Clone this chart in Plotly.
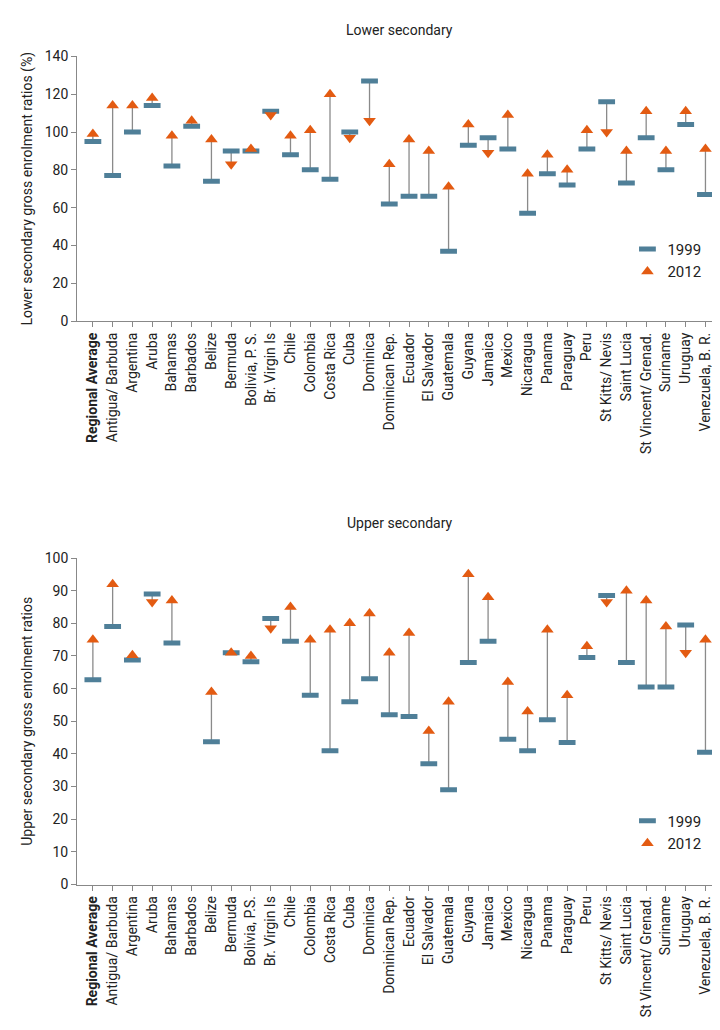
import plotly.graph_objects as go

lower_countries = ["<b>Regional Average</b>", "Antigua/ Barbuda", "Argentina", "Aruba", "Bahamas", "Barbados",
                   "Belize", "Bermuda", "Bolivia, P. S.", "Br. Virgin Is", "Chile", "Colombia", "Costa Rica",
                   "Cuba", "Dominica", "Dominican Rep.", "Ecuador", "El Salvador", "Guatemala", "Guyana",
                   "Jamaica", "Mexico", "Nicaragua", "Panama", "Paraguay", "Peru", "St Kitts/ Nevis",
                   "Saint Lucia", "St Vincent/ Grenad.", "Suriname", "Uruguay", "Venezuela, B. R."]
lower_1999 = [95, 77, 100, 114, 82, 103, 74, 90, 90, 111, 88, 80, 75, 100, 127, 62, 66, 66, 37, 93,
              97, 91, 57, 78, 72, 91, 116, 73, 97, 80, 104, 67]
lower_2012 = [99, 114, 114, 118, 98, 106, 96, 83, 91, 109, 98, 101, 120, 97, 106, 83, 96, 90, 71, 104,
              89, 109, 78, 88, 80, 101, 100, 90, 111, 90, 111, 91]

upper_countries = ["<b>Regional Average</b>", "Antigua/ Barbuda", "Argentina", "Aruba", "Bahamas", "Barbados",
                   "Belize", "Bermuda", "Bolivia, P.S.", "Br. Virgin Is", "Chile", "Colombia", "Costa Rica",
                   "Cuba", "Dominica", "Dominican Rep.", "Ecuador", "El Salvador", "Guatemala", "Guyana",
                   "Jamaica", "Mexico", "Nicaragua", "Panama", "Paraguay", "Peru", "St Kitts/ Nevis",
                   "Saint Lucia", "St Vincent/ Grenad.", "Suriname", "Uruguay", "Venezuela, B. R."]
upper_1999 = [62.7, 79, 68.8, 89, 74, None, 43.7, 71, 68.2, 81.5, 74.5, 58, 41, 56, 63, 52, 51.5, 37, 29, 68,
              74.5, 44.5, 41, 50.5, 43.5, 69.5, 88.5, 68, 60.5, 60.5, 79.5, 40.5]
upper_2012 = [75, 92, 70.2, 86.5, 87, None, 59, 71, 70, 78.5, 85, 75, 78, 80, 83, 71, 77, 47, 56, 95,
              88, 62, 53, 78, 58, 73, 86.5, 90, 87, 79, 71, 75]

BLUE = "#4f7f98"
ORANGE = "#e35b12"
GREY = "#8a8a8a"
FONT = "Roboto"

fig = go.Figure()


def add_panel(cats, v99, v12, xa, ya, legend):
    lx, ly = [], []
    for c, a, b in zip(cats, v99, v12):
        if a is None or b is None:
            continue
        lx += [c, c, None]
        ly += [a, b, None]
    fig.add_trace(go.Scatter(x=lx, y=ly, mode="lines", line=dict(color=GREY, width=1.3),
                             xaxis=xa, yaxis=ya, showlegend=False, hoverinfo="skip"))
    fig.add_trace(go.Scatter(x=cats, y=v99, mode="markers", name="1999",
                             marker=dict(symbol="line-ew", size=12, line=dict(color=BLUE, width=5)),
                             xaxis=xa, yaxis=ya, legend=legend))
    syms = ["triangle-up" if (a is None or b is None or b >= a) else "triangle-down" for a, b in zip(v99, v12)]
    fig.add_trace(go.Scatter(x=cats, y=v12, mode="markers", name="2012",
                             marker=dict(symbol=syms, size=11, color=ORANGE),
                             xaxis=xa, yaxis=ya, legend=legend))


add_panel(lower_countries, lower_1999, lower_2012, "x", "y", "legend")
add_panel(upper_countries, upper_1999, upper_2012, "x2", "y2", "legend2")

axis_common = dict(showgrid=False, showline=True, linecolor="#888", ticks="outside", tickcolor="#888",
                   ticklen=5, tickfont=dict(size=14, color="#222", family=FONT), zeroline=False,
                   automargin=False)

fig.update_layout(
    width=712, height=1030, margin=dict(l=0, r=0, t=0, b=0),
    paper_bgcolor="white", plot_bgcolor="white",
    font=dict(family=FONT, color="#222"),
    xaxis=dict(domain=[0.097, 0.999], anchor="y", tickangle=-90, categoryorder="array",
               categoryarray=lower_countries, range=[-0.8, 31.7], **axis_common),
    yaxis=dict(domain=[0.696, 0.953], anchor="x", range=[0, 140], dtick=20,
               title=dict(text="Lower secondary gross enrolment ratios (%)", font=dict(size=14), standoff=8),
               **axis_common),
    xaxis2=dict(domain=[0.097, 0.999], anchor="y2", tickangle=-90, categoryorder="array",
                categoryarray=upper_countries, range=[-0.8, 31.7], **axis_common),
    yaxis2=dict(domain=[0.149, 0.466], anchor="x2", range=[0, 100], dtick=10,
                title=dict(text="Upper secondary gross enrolment ratios", font=dict(size=14), standoff=8),
                **axis_common),
    legend=dict(x=0.87, y=0.755, xanchor="left", yanchor="middle", font=dict(size=15),
                bgcolor="rgba(0,0,0,0)"),
    legend2=dict(x=0.87, y=0.2, xanchor="left", yanchor="middle", font=dict(size=15),
                 bgcolor="rgba(0,0,0,0)"),
    annotations=[
        dict(text="Lower secondary", x=0.55, y=1 - 12 / 1030, xref="paper", yref="paper",
             showarrow=False, font=dict(size=14)),
        dict(text="Upper secondary", x=0.55, y=1 - 515 / 1030, xref="paper", yref="paper",
             showarrow=False, font=dict(size=14)),
    ],
)

fig.write_html("out.html")
